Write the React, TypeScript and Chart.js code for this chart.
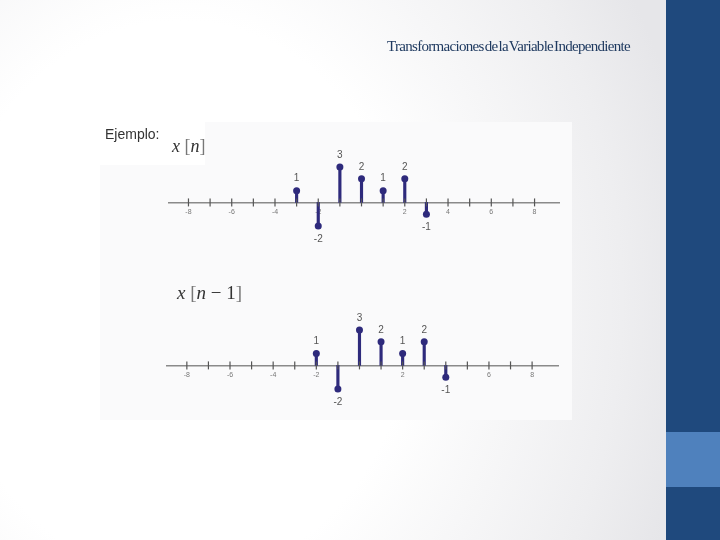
import React, { useEffect, useRef } from "react";
import { Chart, registerables } from "chart.js";

Chart.register(...registerables);

// ---- data ----
const N_ORIGINAL = [-3, -2, -1, 0, 1, 2, 3];
const X_ORIGINAL = [1, -2, 3, 2, 1, 2, -1];
const N_SHIFTED = [-2, -1, 0, 1, 2, 3, 4];
const X_SHIFTED = [1, -2, 3, 2, 1, 2, -1];
const TICK_VALUES = [-8, -7, -6, -5, -4, -3, -2, -1, 0, 1, 2, 3, 4, 5, 6, 7, 8];
const TICK_LABELS = ["-8", "", "-6", "", "-4", "", "-2", "", "", "", "2", "", "4", "", "6", "", "8"];
const TITLE = "Transformaciones de la Variable Independiente";

const STEM_COLOR = "#2e2a7c";

const stemPlugin = {
  id: "stemDecor",
  afterDatasetsDraw(chart: any) {
    const ctx = chart.ctx;
    const xs = chart.scales.x;
    const ys = chart.scales.y;
    const y0 = ys.getPixelForValue(0);
    ctx.save();
    ctx.strokeStyle = "#555";
    ctx.lineWidth = 1.2;
    xs.ticks.forEach((t: any) => {
      const px = xs.getPixelForValue(t.value);
      ctx.beginPath();
      ctx.moveTo(px, y0 - 4);
      ctx.lineTo(px, y0 + 4);
      ctx.stroke();
    });
    ctx.restore();
    const meta = chart.getDatasetMeta(1);
    const ds = chart.data.datasets[1];
    ctx.save();
    ctx.font = "10px Arial, 'Liberation Sans', sans-serif";
    ctx.fillStyle = "#555";
    ctx.textAlign = "center";
    ctx.textBaseline = "middle";
    meta.data.forEach((el: any, i: number) => {
      const v = ds.data[i].y;
      const ty = v >= 0 ? el.y - 12 : el.y + 13;
      ctx.fillText(String(v), el.x, ty);
    });
    ctx.restore();
  },
};

function StemChart(props: {
  ns: number[];
  vals: number[];
  xmin: number;
  xmax: number;
  ymin: number;
  ymax: number;
  style: React.CSSProperties;
}) {
  const ref = useRef<HTMLCanvasElement | null>(null);
  useEffect(() => {
    if (!ref.current) return;
    const pts = props.ns.map((n, i) => ({ x: n, y: props.vals[i] }));
    const chart = new Chart(ref.current, {
      type: "bar",
      data: {
        datasets: [
          {
            type: "bar",
            data: pts,
            backgroundColor: STEM_COLOR,
            borderWidth: 0,
            barThickness: 2.5,
          } as any,
          {
            type: "scatter",
            data: pts,
            backgroundColor: STEM_COLOR,
            borderColor: STEM_COLOR,
            pointRadius: 3.5,
            borderWidth: 0,
          } as any,
        ],
      },
      options: {
        animation: false,
        responsive: true,
        maintainAspectRatio: false,
        layout: { padding: 0 },
        plugins: { legend: { display: false }, tooltip: { enabled: false } },
        scales: {
          x: {
            type: "linear",
            position: { y: 0 } as any,
            min: props.xmin,
            max: props.xmax,
            offset: false,
            afterBuildTicks: (scale: any) => {
              scale.ticks = TICK_VALUES.map((v) => ({ value: v }));
            },
            ticks: {
              autoSkip: false,
              maxRotation: 0,
              padding: 5,
              color: "#777",
              font: { size: 7, family: "Arial, 'Liberation Sans', sans-serif" },
              callback: (value: any) => {
                const idx = TICK_VALUES.indexOf(Number(value));
                return idx >= 0 ? TICK_LABELS[idx] : "";
              },
            },
            grid: {
              display: true,
              color: "rgba(0,0,0,0)",
              drawOnChartArea: false,
              drawTicks: false,
              offset: false,
            },
            border: { display: true, color: "#8a8a8a", width: 1.5 },
          },
          y: {
            type: "linear",
            display: false,
            min: props.ymin,
            max: props.ymax,
          },
        },
      },
      plugins: [stemPlugin],
    });
    return () => chart.destroy();
  }, []);
  return (
    <div style={{ position: "absolute", ...props.style }}>
      <canvas ref={ref} />
    </div>
  );
}

export default function App() {
  const serif = "'Liberation Serif', 'DejaVu Serif', serif";
  return (
    <div
      style={{
        position: "fixed",
        left: 0,
        top: 0,
        width: 720,
        height: 540,
        overflow: "hidden",
        background:
          "radial-gradient(ellipse 520px 620px at 180px 300px, #ffffff 45%, #eeeef0 85%, #e6e6e9 100%)",
      }}
    >
      <div style={{ position: "absolute", left: 660, top: 0, width: 6, height: 540, background: "#e8e8ec" }} />
      <div style={{ position: "absolute", left: 666, top: 0, width: 54, height: 540, background: "#1f497d" }} />
      <div style={{ position: "absolute", left: 666, top: 432, width: 54, height: 55, background: "#4f81bd" }} />

      <div
        style={{
          position: "absolute",
          right: 90,
          top: 38,
          whiteSpace: "nowrap",
          fontFamily: serif,
          fontSize: 15,
          letterSpacing: -0.7,
          wordSpacing: -2,
          color: "#1f3a60",
        }}
      >
        {TITLE}
      </div>

      <div style={{ position: "absolute", left: 100, top: 122, width: 472, height: 298, background: "#fafafb" }} />
      <div style={{ position: "absolute", left: 100, top: 122, width: 105, height: 43, background: "#ffffff" }} />
      <div
        style={{
          position: "absolute",
          left: 105,
          top: 126,
          fontFamily: "Arial, 'Liberation Sans', sans-serif",
          fontSize: 14,
          color: "#333",
        }}
      >
        Ejemplo:
      </div>
      <div style={{ position: "absolute", left: 172, top: 136, fontFamily: serif, fontSize: 18, color: "#333" }}>
        <i>x</i> <span style={{ color: "#777" }}>[</span>
        <i>n</i>
        <span style={{ color: "#777" }}>]</span>
      </div>
      <div style={{ position: "absolute", left: 177, top: 282, fontFamily: serif, fontSize: 19, color: "#333" }}>
        <i>x</i> <span style={{ color: "#777" }}>[</span>
        <i>n</i> − 1<span style={{ color: "#777" }}>]</span>
      </div>

      <StemChart
        ns={N_ORIGINAL}
        vals={X_ORIGINAL}
        xmin={-8.9}
        xmax={9.13}
        ymin={-3.7}
        ymax={4.96}
        style={{ left: 165, top: 140, width: 398, height: 110 }}
      />
      <StemChart
        ns={N_SHIFTED}
        vals={X_SHIFTED}
        xmin={-8.92}
        xmax={9.2}
        ymin={-3.87}
        ymax={5.21}
        style={{ left: 163, top: 300, width: 399, height: 115 }}
      />
    </div>
  );
}
